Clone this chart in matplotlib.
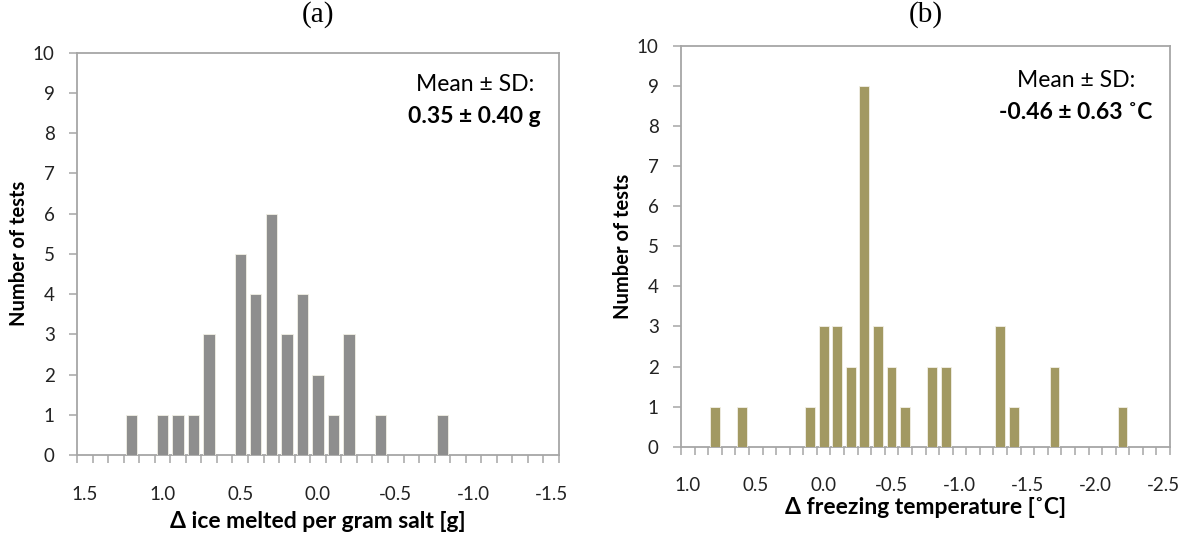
import numpy as np
import matplotlib
matplotlib.use("Agg")
import matplotlib.pyplot as plt
from matplotlib.ticker import FixedLocator

plt.rcParams['font.family'] = ['Lato', 'DejaVu Sans']

# (a) change in ice melted per gram of salt, binned at 0.1 g
ice_bins = [1.2, 1.0, 0.9, 0.8, 0.7, 0.5, 0.4, 0.3, 0.2, 0.1, 0.0, -0.1, -0.2, -0.4, -0.8]
ice_counts = [1, 1, 1, 1, 3, 5, 4, 6, 3, 4, 2, 1, 3, 1, 1]
ice_ticks = [1.5, 1.0, 0.5, 0.0, -0.5, -1.0, -1.5]
ice_range = (1.5, -1.5)

# (b) change in freezing temperature, binned at 0.1 °C
frz_bins = [0.8, 0.6, 0.1, 0.0, -0.1, -0.2, -0.3, -0.4, -0.5, -0.6, -0.8, -0.9, -1.3, -1.4, -1.7, -2.2]
frz_counts = [1, 1, 1, 3, 3, 2, 9, 3, 2, 1, 2, 2, 3, 1, 2, 1]
frz_ticks = [1.0, 0.5, 0.0, -0.5, -1.0, -1.5, -2.0, -2.5]
frz_range = (1.0, -2.5)

y_ticks = list(range(0, 11))

W, H = 1188, 533
fig = plt.figure(figsize=(W / 100, H / 100), dpi=100)

AX_COLOR = '#a6a6a6'
STEP = 0.1


def panel(rect, bins, counts, ticks, rng, color, title, title_pad, xlabel, mean_txt, xlab_y, txt_pos):
    ax = fig.add_axes(rect)
    ax.bar(bins, counts, width=0.073, color=color, edgecolor='#f2f0e6', linewidth=0.6, zorder=3)
    ax.set_xlim(rng[0] + STEP / 2, rng[1] - STEP / 2)
    ax.set_ylim(0, 10)
    for s in ax.spines.values():
        s.set_color(AX_COLOR)
        s.set_linewidth(1.3)
    # category labels every 0.5, tick marks between categories
    ax.xaxis.set_major_locator(FixedLocator(ticks))
    ax.set_xticklabels([f"{t:.1f}" for t in ticks])
    edges = np.arange(round((rng[1] - STEP / 2) * 100), round((rng[0] + STEP / 2) * 100) + 1, 10) / 100
    ax.xaxis.set_minor_locator(FixedLocator(edges))
    ax.tick_params(axis='x', which='major', length=0, pad=22, labelsize=13.5, colors='#222222')
    ax.tick_params(axis='x', which='minor', length=6, width=1.1, color=AX_COLOR, direction='out')
    ax.set_yticks(y_ticks)
    ax.tick_params(axis='y', length=6, width=1.1, color=AX_COLOR, direction='out', pad=10,
                   labelsize=13.5, labelcolor='#222222')
    ax.set_ylabel('Number of tests', fontsize=14.5, fontweight='bold')
    ax.yaxis.set_label_coords(-0.099, 0.5)
    ax.set_xlabel(xlabel, fontsize=16.5, fontweight='bold')
    ax.xaxis.set_label_coords(0.5, xlab_y)
    ax.set_title(title, family='Liberation Serif', fontsize=21, pad=title_pad)
    ax.text(txt_pos[0], txt_pos[1], 'Mean ± SD:', transform=ax.transAxes,
            ha='center', va='center', fontsize=16.5)
    ax.text(txt_pos[0], txt_pos[1] - 0.078, mean_txt, transform=ax.transAxes,
            ha='center', va='center', fontsize=16.5, fontweight='bold')
    return ax


panel([77 / W, 1 - 455 / H, 482 / W, 402.3 / H], ice_bins, ice_counts, ice_ticks, ice_range,
      '#8e8e8e', '(a)', 22, 'Δ ice melted per gram salt [g]', '0.35 ± 0.40 g', -0.140, (0.825, 0.92))

panel([681 / W, 1 - 446.7 / H, 489 / W, 401 / H], frz_bins, frz_counts, frz_ticks, frz_range,
      '#a29962', '(b)', 17, 'Δ freezing temperature [˚C]', '-0.46 ± 0.63 ˚C', -0.126, (0.808, 0.912))

fig.savefig('out.png', dpi=100)
